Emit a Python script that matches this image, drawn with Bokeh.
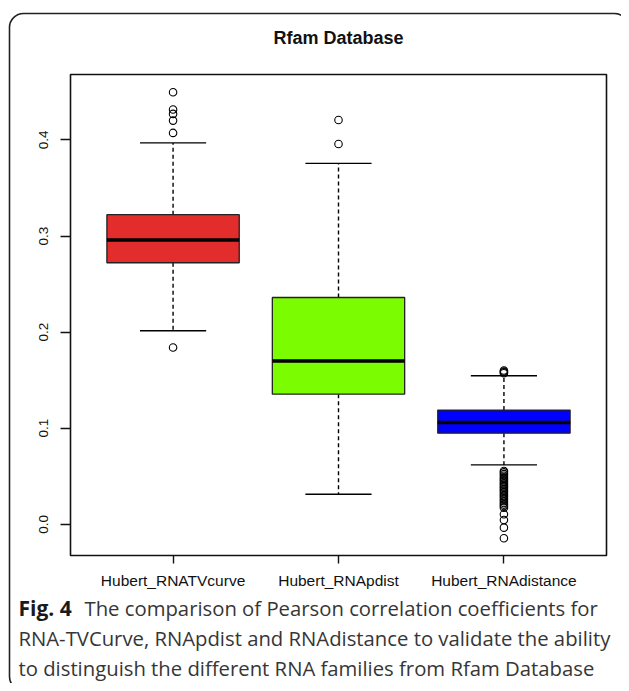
import numpy as np
from bokeh.plotting import figure
from bokeh.models import Range1d, FixedTicker, ColumnDataSource
from bokeh.core.properties import value
from bokeh.embed import file_html
from bokeh.resources import INLINE

# ---- data ----
categories = ["Hubert_RNATVcurve", "Hubert_RNApdist", "Hubert_RNAdistance"]
positions = [1, 2, 3]
box_colors = ["#E32D2D", "#7CFC00", "#0000FF"]
lower_whisker = [0.2014, 0.0313, 0.0618]
q1 = [0.2722, 0.1354, 0.0948]
median = [0.2958, 0.1698, 0.1058]
q3 = [0.3222, 0.2360, 0.1188]
upper_whisker = [0.3969, 0.3756, 0.1545]
outliers_tvcurve = [0.4496, 0.4316, 0.4271, 0.4201, 0.4073, 0.1840]
outliers_pdist = [0.4208, 0.3958]
outliers_distance = [0.1600, 0.1590, 0.1582, 0.1572,
                     0.0555, 0.0540, 0.0522, 0.0505, 0.0488, 0.0472, 0.0458,
                     0.0441, 0.0425, 0.0410, 0.0394, 0.0380, 0.0365, 0.0350,
                     0.0335, 0.0318, 0.0302, 0.0288, 0.0271, 0.0255, 0.0240,
                     0.0222, 0.0205, 0.0190, 0.0173, 0.0104, 0.0045, -0.0035,
                     -0.0146]
y_ticks = [0.0, 0.1, 0.2, 0.3, 0.4]
y_tick_labels = ["0.0", "0.1", "0.2", "0.3", "0.4"]
title_text = "Rfam Database"
caption_bold = "Fig. 4"
caption_lines = [
    "The comparison of Pearson correlation coefficients for",
    "RNA-TVCurve, RNApdist and RNAdistance to validate the ability",
    "to distinguish the different RNA families from Rfam Database",
]

# ---- layout (pixels) ----
W, H = 621, 683
BOX_L, BOX_R, BOX_T, BOX_B = 70, 606, 74, 555
X_LO, X_HI = 0.38, 3.62
Y_LO, Y_HI = -0.0325, 0.4681
BOX_W = 0.8
CAP_W = 0.4

sx = (X_HI - X_LO) / (BOX_R - BOX_L)
sy = (Y_HI - Y_LO) / (BOX_B - BOX_T)
p = figure(width=W, height=H,
           x_range=Range1d(X_LO - BOX_L * sx, X_HI + (W - BOX_R) * sx),
           y_range=Range1d(Y_LO - (H - BOX_B) * sy, Y_HI + BOX_T * sy),
           output_backend="svg", toolbar_location=None,
           min_border_left=0, min_border_right=0,
           min_border_top=0, min_border_bottom=0)
p.extra_x_ranges = {"px": Range1d(0, W)}
p.extra_y_ranges = {"px": Range1d(H, 0)}
p.background_fill_color = "white"
p.border_fill_color = "white"
p.outline_line_color = None
p.xgrid.visible = False
p.ygrid.visible = False

# rounded outer frame of the figure panel
p.quad(left=[9], right=[628], top=[13], bottom=[690], x_range_name="px", y_range_name="px",
       border_radius=14, fill_color=None, line_color="#222222", line_width=1.6)

# plot box
p.quad(left=[X_LO], right=[X_HI], bottom=[Y_LO], top=[Y_HI],
       fill_color=None, line_color="#111111", line_width=1.6)

pos = np.array(positions, dtype=float)
src = ColumnDataSource(dict(
    x=pos, lw=lower_whisker, q1=q1, med=median, q3=q3, uw=upper_whisker,
    color=box_colors,
    cap_l=pos - CAP_W / 2, cap_r=pos + CAP_W / 2,
    box_l=pos - BOX_W / 2, box_r=pos + BOX_W / 2,
))

# whiskers
p.segment(x0="x", y0="q3", x1="x", y1="uw", source=src,
          line_color="black", line_width=1.4, line_dash="4 3")
p.segment(x0="x", y0="q1", x1="x", y1="lw", source=src,
          line_color="black", line_width=1.4, line_dash="4 3")
# caps
p.segment(x0="cap_l", y0="uw", x1="cap_r", y1="uw", source=src,
          line_color="black", line_width=1.4)
p.segment(x0="cap_l", y0="lw", x1="cap_r", y1="lw", source=src,
          line_color="black", line_width=1.4)
# boxes
p.vbar(x="x", width=BOX_W, bottom="q1", top="q3", source=src,
       fill_color="color", line_color="#222222", line_width=1.3)
# medians
p.segment(x0="box_l", y0="med", x1="box_r", y1="med", source=src,
          line_color="black", line_width=3.5)

# outliers
ox, oy = [], []
for xv, vals in zip(positions, [outliers_tvcurve, outliers_pdist, outliers_distance]):
    ox += [xv] * len(vals)
    oy += vals
p.scatter(x=ox, y=oy, marker="circle", size=7.5, fill_color=None,
          line_color="black", line_width=1.1)

# axes, fixed at the edges of the plot box
p.xaxis.fixed_location = Y_LO
p.yaxis.fixed_location = X_LO
p.xaxis.ticker = FixedTicker(ticks=positions)
p.xaxis.major_label_overrides = {xv: c for xv, c in zip(positions, categories)}
p.yaxis.ticker = FixedTicker(ticks=y_ticks)
p.yaxis.major_label_overrides = {t: l for t, l in zip(y_ticks, y_tick_labels)}
for ax in (p.xaxis, p.yaxis):
    ax.axis_line_color = None
    ax.minor_tick_line_color = None
    ax.major_tick_line_color = "#111111"
    ax.major_tick_line_width = 1.4
    ax.major_tick_in = 0
    ax.major_label_text_font = "Liberation Sans"
    ax.major_label_text_color = "#111111"
p.xaxis.major_tick_out = 8
p.xaxis.major_label_standoff = 8
p.xaxis.major_label_text_font_size = "15.5px"
p.yaxis.major_tick_out = 10
p.yaxis.major_label_standoff = 12
p.yaxis.major_label_text_font_size = "13.5px"
p.yaxis.major_label_orientation = "vertical"

# title
p.text(x=[338], y=[37], text=[title_text], x_range_name="px", y_range_name="px",
       text_align="center", text_baseline="middle",
       text_font=value("Liberation Sans"), text_font_style="bold",
       text_font_size="18px", text_color="#111111")

# caption
cap_font = value("Open Sans")
p.text(x=[18], y=[607], text=[caption_bold], x_range_name="px", y_range_name="px",
       text_align="left", text_baseline="middle", text_font=cap_font,
       text_font_style="bold", text_font_size="21px", text_color="#1a1a1a")
p.text(x=[84, 18, 18], y=[607, 637, 667], text=caption_lines,
       x_range_name="px", y_range_name="px",
       text_align="left", text_baseline="middle", text_font=cap_font,
       text_font_size="20.3px", text_color="#363636")

open("out.html", "w").write(file_html(p, INLINE))
